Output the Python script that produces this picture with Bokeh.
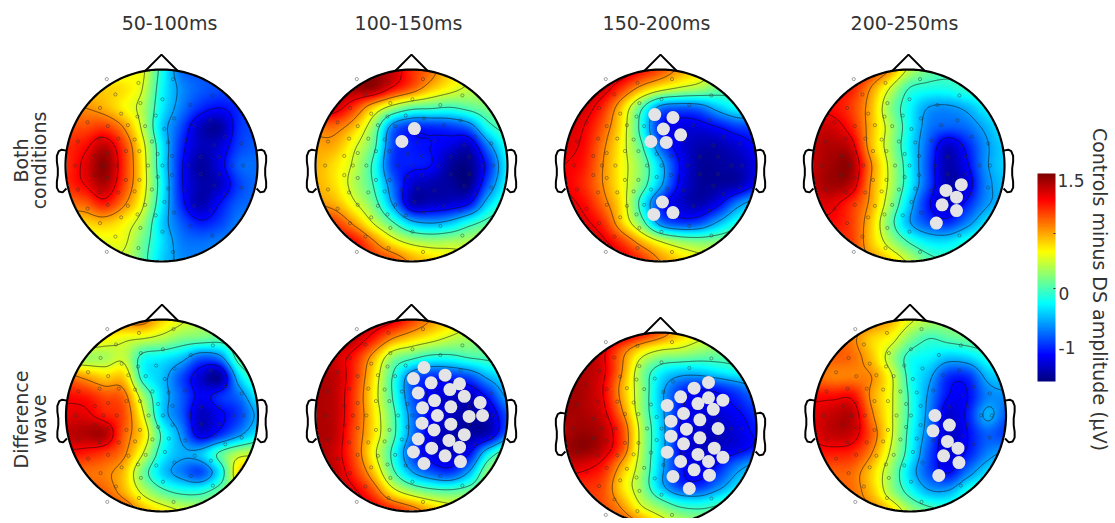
import numpy as np
from bokeh.core.properties import value
from bokeh.embed import file_html
from bokeh.models import LinearColorMapper, Range1d
from bokeh.plotting import figure
from bokeh.resources import INLINE

time_windows = ["50-100ms", "100-150ms", "150-200ms", "200-250ms"]
colorbar_ticks = ["1.5", "0", "-1"]

# amplitudes: 11 rows (front to back) x 11 columns (left to right)
both_50_100 = [
    [.3, .3, .3, .3, .3, -.3, -.8, -.9, -.9, -.9, -.9],
    [.5, .5, .5, .45, .25, -.35, -.7, -.85, -.9, -.9, -.9],
    [.7, .7, .6, .4, .15, -.4, -.75, -1.0, -1.1, -1.0, -.9],
    [.9, .9, .95, .7, .2, -.5, -.9, -1.3, -1.4, -1.0, -.9],
    [1.0, 1.1, 1.3, .95, .35, -.4, -1.0, -1.3, -1.25, -.95, -.85],
    [1.0, 1.2, 1.45, 1.0, .4, -.4, -1.05, -1.4, -1.2, -.85, -.8],
    [1.0, 1.15, 1.35, .95, .4, -.35, -1.05, -1.35, -1.3, -.95, -.8],
    [.8, .85, 1.05, .75, .3, -.4, -1.0, -1.35, -1.1, -.85, -.8],
    [.5, .5, .55, .4, .1, -.5, -.85, -1.05, -.95, -.75, -.7],
    [.3, .3, .3, .3, -.05, -.45, -.75, -.8, -.75, -.7, -.7],
    [.2, .2, .2, .2, -.1, -.5, -.7, -.75, -.7, -.7, -.7],
]
both_100_150 = [
    [1.4, 1.4, 1.4, 1.4, 1.3, 1.0, .8, .5, .3, .2, .2],
    [1.4, 1.4, 1.4, 1.4, 1.1, .85, .55, .35, .2, .15, .1],
    [1.3, 1.25, .95, .5, .12, -.12, -.17, -.22, -.12, .0, .05],
    [.8, .8, .55, .05, -.75, -1.0, -1.0, -.95, -.8, -.3, -.1],
    [.65, .6, .3, -.1, -.9, -1.05, -1.1, -1.2, -1.3, -.75, -.3],
    [.6, .45, .2, -.25, -.95, -1.05, -1.1, -1.4, -1.45, -1.0, -.4],
    [.6, .45, .15, -.2, -.8, -1.25, -1.35, -1.4, -1.45, -.85, -.35],
    [.7, .6, .3, -.05, -.65, -1.3, -1.3, -1.25, -1.1, -.5, -.2],
    [1.0, .95, .65, .25, -.15, -.55, -.65, -.55, -.3, -.1, .0],
    [1.2, 1.2, 1.1, .75, .4, .18, .1, .12, .15, .2, .2],
    [1.4, 1.4, 1.2, 1.0, .9, .65, .5, .4, .3, .3, .3],
]
both_150_200 = [
    [1.4, 1.4, 1.4, 1.3, 1.1, .9, .65, .45, .2, .1, .1],
    [1.35, 1.35, 1.25, .95, .6, .35, .2, .1, -.05, -.1, -.1],
    [1.3, 1.25, 1.0, .5, -.15, -.75, -.85, -.8, -.55, -.35, -.3],
    [1.25, 1.15, .85, .4, -.3, -1.05, -1.2, -1.2, -1.1, -.95, -.9],
    [1.2, 1.1, .75, .35, -.15, -.85, -1.2, -1.35, -1.35, -1.25, -1.1],
    [1.15, 1.05, .7, .35, .0, -.55, -1.1, -1.4, -1.4, -1.35, -1.2],
    [1.15, 1.0, .7, .35, -.05, -.6, -1.15, -1.4, -1.4, -1.35, -1.1],
    [1.2, 1.1, .8, .4, -.3, -1.0, -1.25, -1.35, -1.15, -.75, -.5],
    [1.25, 1.2, 1.0, .5, -.05, -.75, -.95, -.9, -.6, -.3, -.2],
    [1.3, 1.3, 1.2, .95, .6, .28, .08, .0, .02, .05, .05],
    [1.35, 1.35, 1.3, 1.2, 1.0, .7, .5, .35, .3, .2, .2],
]
both_200_250 = [
    [1.2, 1.2, 1.2, 1.0, .7, .2, -.05, -.15, -.15, -.1, -.1],
    [1.15, 1.15, 1.05, .7, .25, -.2, -.3, -.3, -.22, -.17, -.15],
    [1.1, 1.1, .95, .6, .05, -.35, -.65, -.7, -.6, -.4, -.3],
    [1.25, 1.25, 1.05, .6, .15, -.35, -.75, -.85, -.8, -.6, -.4],
    [1.3, 1.35, 1.25, .6, .12, -.4, -.85, -1.28, -1.05, -.7, -.5],
    [1.3, 1.4, 1.4, .75, .2, -.35, -.9, -1.35, -1.15, -.7, -.5],
    [1.3, 1.4, 1.3, .7, .2, -.35, -.9, -1.35, -1.25, -.75, -.55],
    [1.2, 1.2, 1.0, .65, .1, -.5, -1.05, -1.3, -1.05, -.7, -.55],
    [1.1, 1.1, .95, .55, -.05, -.6, -.9, -1.0, -.75, -.45, -.3],
    [1.0, 1.0, .95, .55, .15, -.2, -.42, -.45, -.3, -.2, -.2],
    [1.0, 1.0, .9, .7, .5, .2, -.1, -.2, -.2, -.2, -.2],
]
diff_50_100 = [
    [.8, .8, .8, .8, .8, .5, .3, .15, .1, .1, .1],
    [.5, .5, .4, .3, .25, .15, .0, -.05, -.1, -.05, .0],
    [.1, .1, .12, .2, -.3, -.4, -.55, -.85, -.75, -.1, .0],
    [.8, .65, .5, .5, -.3, -.55, -.9, -1.25, -1.4, -.5, -.1],
    [1.1, 1.05, .9, .8, .1, -.5, -.85, -1.15, -1.0, -.8, -.4],
    [1.2, 1.2, 1.05, .9, .3, -.5, -.85, -1.3, -1.15, -.95, -.6],
    [1.3, 1.35, 1.35, .85, .45, -.25, -.7, -1.2, -1.0, -.7, -.4],
    [1.1, 1.05, .95, .75, .25, -.35, -.6, -.55, -.15, .15, .2],
    [.8, .8, .75, .55, -.05, -.5, -.75, -.9, -.4, .45, .5],
    [.9, .9, .85, .6, .2, -.1, -.25, -.25, -.05, .15, .2],
    [1.1, 1.1, 1.05, .95, .6, .4, .25, .15, .1, .1, .1],
]
diff_100_150 = [
    [1.35, 1.35, 1.35, 1.3, 1.2, .95, .7, .5, .3, .3, .3],
    [1.35, 1.35, 1.3, 1.05, .7, .5, .35, .2, .1, .05, .05],
    [1.3, 1.25, 1.05, .6, .05, -.15, -.3, -.3, -.2, -.15, -.1],
    [1.35, 1.3, 1.0, .45, -.2, -.8, -1.0, -1.0, -.9, -.6, -.4],
    [1.35, 1.3, .95, .4, -.2, -.85, -1.15, -1.28, -1.3, -1.05, -.6],
    [1.35, 1.3, .95, .45, -.1, -.75, -1.15, -1.3, -1.38, -1.3, -.9],
    [1.35, 1.3, .9, .45, -.1, -.75, -1.2, -1.35, -1.38, -1.3, -.8],
    [1.35, 1.25, .9, .35, -.25, -.9, -1.2, -1.3, -1.1, -.4, .0],
    [1.35, 1.3, 1.0, .55, -.1, -.6, -.85, -.95, -.6, .05, .15],
    [1.35, 1.3, 1.2, .9, .4, .12, -.05, -.1, -.02, .1, .15],
    [1.3, 1.3, 1.3, 1.2, 1.05, .85, .6, .4, .3, .2, .2],
]
diff_150_200 = [
    [1.4, 1.4, 1.4, 1.3, 1.1, .85, .55, .35, .25, .2, .2],
    [1.4, 1.4, 1.2, .8, .4, .2, .15, .05, -.02, -.05, -.05],
    [1.4, 1.35, 1.2, .7, .05, -.35, -.5, -.5, -.4, -.3, -.25],
    [1.4, 1.35, 1.15, .6, .05, -.55, -.95, -1.1, -1.05, -.9, -.7],
    [1.4, 1.35, 1.2, .7, .05, -.55, -1.05, -1.2, -1.2, -1.1, -.95],
    [1.35, 1.4, 1.3, .9, .15, -.5, -1.1, -1.25, -1.3, -1.2, -1.05],
    [1.4, 1.45, 1.3, .9, .15, -.5, -1.1, -1.3, -1.28, -1.2, -1.05],
    [1.25, 1.2, 1.05, .6, .1, -.55, -1.05, -1.2, -1.05, -.75, -.55],
    [1.0, 1.0, .9, .45, .05, -.55, -.95, -1.0, -.75, -.45, -.3],
    [1.0, 1.0, .9, .65, .25, -.02, -.25, -.3, -.2, -.1, -.1],
    [1.1, 1.1, 1.05, .9, .7, .4, .2, .1, .05, .0, .0],
]
diff_200_250 = [
    [.85, .85, .85, .8, .6, .3, .15, .1, .15, .15, .15],
    [.9, .9, .75, .5, .35, .0, -.2, -.12, -.05, .0, .0],
    [.85, .85, .8, .55, .12, -.3, -.4, -.55, -.5, -.3, -.2],
    [.8, .75, .75, .7, .3, -.3, -.6, -1.0, -1.0, -.6, -.5],
    [1.1, 1.1, 1.1, .65, .3, -.25, -.7, -1.1, -1.1, -.75, -.7],
    [1.2, 1.3, 1.3, .75, .3, -.25, -.75, -1.25, -1.05, -.6, -.85],
    [1.2, 1.3, 1.25, .85, .3, -.3, -.8, -1.28, -1.1, -.85, -.95],
    [1.05, 1.05, 1.0, .7, .2, -.35, -.9, -1.25, -1.05, -.75, -.6],
    [.85, .85, .8, .5, .05, -.5, -.9, -1.1, -.75, -.45, -.3],
    [.85, .85, .8, .55, .1, -.3, -.6, -.6, -.3, -.2, -.2],
    [.85, .85, .8, .75, .5, .1, -.1, -.2, -.2, -.2, -.2],
]

# electrodes on the front half and midline, head radius = 1 (back half is mirrored)
elec_x = [-.57, -.24, .12, -.48, -.22, .01, .53, .30, -.64, -.42, -.25, -.06, .13,
          -.77, -.56, -.35, -.17, .03, .34, .51, .66, -.87, -.65, -.45, -.28, -.10,
          .07, .24, .55, .83, -.70, -.56, -.37, -.23, -.04, .11, .41, .60]
elec_y = [.90, .86, .90, .74, .65, .69, .73, .63, .60, .54, .51, .52, .49,
          .45, .41, .42, .41, .38, .42, .47, .30, .25, .28, .28, .27, .25,
          .24, .26, .21, .23, .10, .13, .15, .15, .12, .10, .09, .09]
mid_x = [-.90, -.61, -.47, -.14, .01, .28, .74, .85]

# significant electrodes per map
sig_both_100_150 = [(.03, .385), (-.10, .25)]
sig_both_150_200 = [(-.06, .53), (.13, .50), (.03, .38), (.21, .32), (-.10, .25),
                    (.06, .24), (.02, -.38), (-.07, -.51), (.13, -.49)]
sig_both_200_250 = [(.55, -.20), (.39, -.26), (.50, -.33), (.35, -.41), (.50, -.47), (.29, -.60)]
sig_diff_100_150 = [(.13, .50), (.02, .385), (.35, .42), (.205, .34), (.50, .33), (.07, .235),
                    (.40, .27), (.55, .20), (.715, .135), (.24, .155), (.115, .08), (.41, .09),
                    (.27, 0), (.60, -.01), (.74, 0), (.11, -.08), (.41, -.09), (.235, -.15),
                    (.55, -.20), (.07, -.245), (.39, -.26), (.50, -.33), (.21, -.34), (.02, -.38),
                    (.35, -.42), (.13, -.50), (.51, -.48)]
sig_diff_150_200 = [(.50, .48), (.35, .42), (.21, .33), (.50, .32), (.39, .26), (.65, .295),
                    (.55, .20), (.07, .24), (.24, .156), (.41, .09), (.11, .076), (.27, -.007),
                    (.60, 0), (.11, -.08), (.41, -.097), (.24, -.16), (.56, -.205), (.07, -.247),
                    (.39, -.27), (.65, -.30), (.21, -.344), (.50, -.344), (.35, -.43), (.51, -.486),
                    (.13, -.50), (.30, -.625)]
sig_diff_200_250 = [(.26, 0), (.41, -.10), (.24, -.16), (.39, -.27), (.50, -.34), (.35, -.42),
                    (.51, -.49), (.30, -.625)]

W, H = 1115, 523
R = 96
FONT = value("DejaVu Sans")
levels = [-1.1, -.65, -.2, .25, .7, 1.15]


def jet(n=256):
    out = []
    for f in np.linspace(0, 1, n):
        r = np.clip(min(4 * f - 1.5, 4.5 - 4 * f), 0, 1)
        g = np.clip(min(4 * f - .5, 3.5 - 4 * f), 0, 1)
        b = np.clip(min(4 * f + .5, 2.5 - 4 * f), 0, 1)
        out.append("#%02x%02x%02x" % (int(r * 255), int(g * 255), int(b * 255)))
    return out


mapper = LinearColorMapper(palette=jet(), low=-1.5, high=1.5, nan_color="rgba(0,0,0,0)")


def cubic_weights(n_in, n_out):
    # Catmull-Rom weights, only used to draw the read values as a smooth surface
    u = np.linspace(0, n_in - 1, n_out)
    w = np.zeros((n_out, n_in))
    for k, v in enumerate(u):
        i = min(int(v), n_in - 2)
        t = v - i
        coef = [(-t**3 + 2 * t**2 - t) / 2, (3 * t**3 - 5 * t**2 + 2) / 2,
                (-3 * t**3 + 4 * t**2 + t) / 2, (t**3 - t**2) / 2]
        for off, c in zip([-1, 0, 1, 2], coef):
            w[k, np.clip(i + off, 0, n_in - 1)] += c
    return w


def sy(y):
    return H - y


p = figure(width=1110, height=518, output_backend="svg", toolbar_location=None,
           x_axis_type=None, y_axis_type=None, min_border=0,
           x_range=Range1d(0, 1110), y_range=Range1d(5, 523), outline_line_color=None)

ear_x = [-.99, -1.04, -1.07, -1.09, -1.09, -1.08, -1.08, -1.09, -1.09, -1.07, -1.03, -.99]
ear_y = [.155, .165, .15, .10, .04, -.03, -.10, -.17, -.23, -.27, -.28, -.24]
elec_all_x = np.array(elec_x + mid_x + elec_x)
elec_all_y = np.array(elec_y + [0] * len(mid_x) + [-v for v in elec_y])

n_fine = 384
weights = cubic_weights(11, n_fine)
xn = np.linspace(-1, 1, n_fine)
xx, yy = np.meshgrid(xn, xn)
theta = np.linspace(0, 2 * np.pi, 241)

heads = [
    (161, 165, both_50_100, []),
    (411, 165, both_100_150, sig_both_100_150),
    (660, 165, both_150_200, sig_both_150_200),
    (908, 165, both_200_250, sig_both_200_250),
    (161.5, 415, diff_50_100, []),
    (411, 415, diff_100_150, sig_diff_100_150),
    (660, 428, diff_150_200, sig_diff_150_200),
    (909.5, 415, diff_200_250, sig_diff_200_250),
]

for cx, cy, grid, sig in heads:
    z = weights @ np.array(grid) @ weights.T
    z = np.flipud(z)
    z[xx**2 + yy**2 > 1.0] = np.nan
    Y = sy(cy)
    p.image(image=[z], x=cx - R, y=Y - R, dw=2 * R, dh=2 * R, color_mapper=mapper)
    p.contour(cx + xn * R, Y + xn * R, z, levels, line_color="#101010", line_alpha=.6, line_width=1)
    # electrodes
    p.scatter(cx + elec_all_x * R, Y + elec_all_y * R, size=3.2, marker="circle", fill_alpha=0,
              line_color="#303030", line_alpha=.55, line_width=.8)
    # head, nose, ears
    p.line(cx + R * np.cos(theta), Y + R * np.sin(theta), line_color="black", line_width=2.2)
    p.line([cx - .17 * R, cx, cx + .17 * R], [Y + .985 * R, Y + 1.155 * R, Y + .985 * R],
           line_color="black", line_width=2)
    for side in (-1, 1):
        p.line(cx - side * np.array(ear_x) * R, Y + np.array(ear_y) * R, line_color="black", line_width=2)
    if sig:
        sx = np.array([s[0] for s in sig])
        sy_n = np.array([s[1] for s in sig])
        p.scatter(cx + sx * R, Y + sy_n * R, size=13, marker="circle", fill_color="#e4e4e6", line_color=None)

# column titles
for label, cx in zip(time_windows, [169, 408, 656, 904]):
    p.text([cx], [sy(22)], text=[label], text_font=FONT, text_font_size="19px", text_color="#333333",
           text_align="center", text_baseline="middle")

# row titles
for label, x, y in [("Both", 20, 160), ("conditions", 38, 160), ("Difference", 20, 419), ("wave", 38, 419)]:
    p.text([x], [sy(y)], text=[label], angle=np.pi / 2, text_font=FONT, text_font_size="19px",
           text_color="#333333", text_align="center", text_baseline="middle")

# colour bar
bar = np.linspace(-1.5, 1.5, 256).reshape(-1, 1)
p.image(image=[bar], x=1037, y=sy(381), dw=18, dh=208, color_mapper=mapper)
p.segment([1053, 1053], [sy(233), sy(288)], [1055, 1055], [sy(233), sy(288)], line_color="#333333")
for label, x, y in zip(colorbar_ticks, [1057, 1058, 1058], [180, 293, 347]):
    p.text([x], [sy(y)], text=[label], text_font=FONT, text_font_size="17px", text_color="#333333",
           text_align="left", text_baseline="middle")
p.text([1099], [sy(289)], text=["Controls minus DS amplitude (µV)"], angle=-np.pi / 2, text_font=FONT,
       text_font_size="19px", text_color="#333333", text_align="center", text_baseline="middle")

open("out.html", "w").write(file_html(p, INLINE))
